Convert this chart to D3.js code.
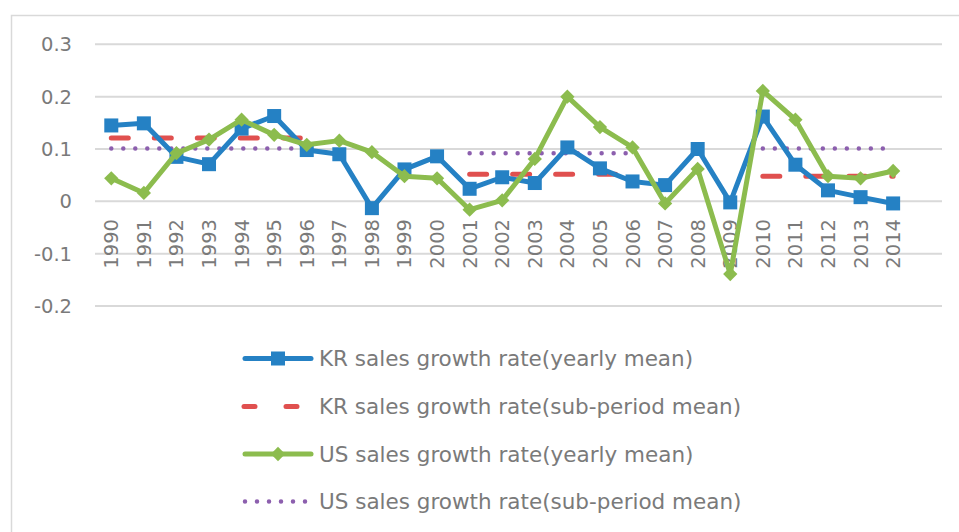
<!DOCTYPE html>
<html>
<head>
<meta charset="utf-8">
<script src="https://cdn.jsdelivr.net/npm/d3@7/dist/d3.min.js"></script>
<style>
  html, body { margin: 0; padding: 0; background: #fff; }
  svg { display: block; font-family: "DejaVu Sans", "Noto Sans", sans-serif; }
</style>
</head>
<body>
<svg id="chart" width="959" height="532"></svg>
<script>
const years = ['1990','1991','1992','1993','1994','1995','1996','1997','1998','1999','2000','2001','2002',
  '2003','2004','2005','2006','2007','2008','2009','2010','2011','2012','2013','2014'];
const yTicks = [-0.2, -0.1, 0, 0.1, 0.2, 0.3];
const yTickLabels = ['-0.2', '-0.1', '0', '0.1', '0.2', '0.3'];

const krYearly = [0.144, 0.148, 0.084, 0.070, 0.138, 0.162, 0.097, 0.089, -0.014, 0.060, 0.085,
  0.023, 0.045, 0.034, 0.102, 0.062, 0.037, 0.030, 0.099, -0.003, 0.161, 0.069, 0.020, 0.007, -0.005];
const krSubPeriod = [0.12, 0.12, 0.12, 0.12, 0.12, 0.12, 0.12, null, null, null, null,
  0.051, 0.051, 0.051, 0.051, 0.051, 0.051, null, null, null, 0.047, 0.047, 0.047, 0.047, 0.047];
const usYearly = [0.043, 0.015, 0.091, 0.117, 0.155, 0.126, 0.107, 0.115, 0.093, 0.047, 0.043,
  -0.017, 0.001, 0.080, 0.199, 0.141, 0.102, -0.005, 0.061, -0.140, 0.210, 0.155, 0.047, 0.043, 0.057];
const usSubPeriod = [0.1, 0.1, 0.1, 0.1, 0.1, 0.1, 0.1, null, null, null, null,
  0.091, 0.091, 0.091, 0.091, 0.091, 0.091, null, null, null, 0.1, 0.1, 0.1, 0.1, 0.1];

const seriesNames = [
  'KR sales growth rate(yearly mean)',
  'KR sales growth rate(sub-period mean)',
  'US sales growth rate(yearly mean)',
  'US sales growth rate(sub-period mean)'
];

const BLUE = '#2581C4', RED = '#E0504F', GREEN = '#8CBC4E', PURPLE = '#8C5FAE';
const TEXT = '#7A7A7A', GRID = '#D9D9D9';

const svg = d3.select('#chart');

// chart frame (runs past the right and bottom of the window)
svg.append('rect')
  .attr('x', 11.5).attr('y', 15.5)
  .attr('width', 1000).attr('height', 600)
  .attr('fill', 'none').attr('stroke', GRID).attr('stroke-width', 1.5);

// 26 category slots, the last one is empty
const x = d3.scaleLinear().domain([-0.5, 25.5]).range([95, 942]);
const y = d3.scaleLinear().domain([-0.2, 0.3]).range([305.5, 43.8]);

const yAxis = svg.append('g').attr('transform', 'translate(95,0)')
  .call(d3.axisLeft(y).tickValues(yTicks).tickSize(-847)
    .tickFormat((d, i) => yTickLabels[i]));
yAxis.select('.domain').remove();
yAxis.selectAll('.tick line').attr('stroke', GRID).attr('stroke-width', 2);
yAxis.selectAll('.tick text')
  .attr('x', -23).attr('dy', '0.36em')
  .attr('fill', TEXT).attr('font-size', 19.5)
  .style('font-family', '"DejaVu Sans", "Noto Sans", sans-serif');

// category labels, rotated
svg.append('g').selectAll('text')
  .data(years)
  .join('text')
  .attr('transform', (d, i) => `translate(${x(i) + 7},219) rotate(-90)`)
  .attr('text-anchor', 'end')
  .attr('fill', TEXT)
  .attr('font-size', 19.5)
  .text(d => d);

const line = d3.line()
  .defined(d => d != null)
  .x((d, i) => x(i))
  .y(d => y(d));

svg.append('path').datum(krSubPeriod)
  .attr('d', line).attr('fill', 'none')
  .attr('stroke', RED).attr('stroke-width', 5)
  .attr('stroke-linecap', 'round').attr('stroke-dasharray', '17,26');

svg.append('path').datum(usSubPeriod)
  .attr('d', line).attr('fill', 'none')
  .attr('stroke', PURPLE).attr('stroke-width', 4.5)
  .attr('stroke-linecap', 'round').attr('stroke-dasharray', '0,12');

svg.append('path').datum(krYearly)
  .attr('d', line).attr('fill', 'none')
  .attr('stroke', BLUE).attr('stroke-width', 5)
  .attr('stroke-linejoin', 'round');

svg.append('g').selectAll('rect')
  .data(krYearly)
  .join('rect')
  .attr('x', (d, i) => x(i) - 7).attr('y', d => y(d) - 7)
  .attr('width', 14).attr('height', 14)
  .attr('fill', BLUE);

svg.append('path').datum(usYearly)
  .attr('d', line).attr('fill', 'none')
  .attr('stroke', GREEN).attr('stroke-width', 5)
  .attr('stroke-linejoin', 'round');

const diamond = d3.symbol().type(d3.symbolDiamond2).size(130);
svg.append('g').selectAll('path')
  .data(usYearly)
  .join('path')
  .attr('transform', (d, i) => `translate(${x(i)},${y(d)})`)
  .attr('d', diamond)
  .attr('fill', GREEN);

// legend
const legendRows = [358.5, 406.5, 454, 501.5];
const legend = svg.append('g');
seriesNames.forEach((name, k) => {
  const g = legend.append('g').attr('transform', `translate(0,${legendRows[k]})`);
  const ln = g.append('line').attr('x1', 245).attr('x2', 311).attr('y1', 0).attr('y2', 0)
    .attr('stroke-linecap', 'round');
  if (k === 0) {
    ln.attr('stroke', BLUE).attr('stroke-width', 5);
    g.append('rect').attr('x', 271).attr('y', -7).attr('width', 14).attr('height', 14).attr('fill', BLUE);
  } else if (k === 1) {
    ln.attr('x1', 244).attr('x2', 312)
      .attr('stroke', RED).attr('stroke-width', 5).attr('stroke-dasharray', '11,31');
  } else if (k === 2) {
    ln.attr('stroke', GREEN).attr('stroke-width', 5);
    g.append('path').attr('transform', 'translate(278,0)').attr('d', diamond).attr('fill', GREEN);
  } else {
    ln.attr('stroke', PURPLE).attr('stroke-width', 4.5).attr('stroke-dasharray', '0,12');
  }
  g.append('text').attr('x', 319).attr('dy', '0.36em')
    .attr('fill', TEXT).attr('font-size', 21.5).text(name);
});
</script>
</body>
</html>
